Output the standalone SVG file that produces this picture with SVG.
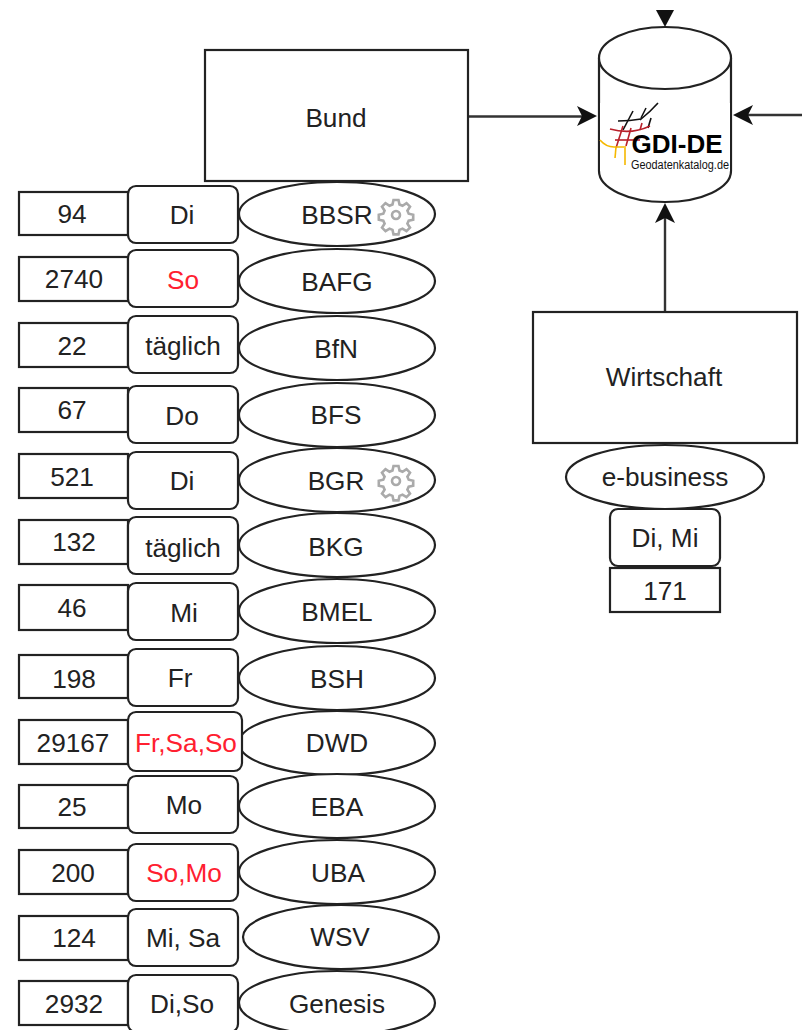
<svg xmlns="http://www.w3.org/2000/svg" width="802" height="1030" viewBox="0 0 802 1030">
<style>
text{font-family:"Liberation Sans",Arial,sans-serif;font-size:26.2px;fill:#222;text-anchor:middle;dominant-baseline:central}
.s{fill:#fff;stroke:#222;stroke-width:2.2}
.r{fill:#ff2030}
.c{fill:none;stroke:#333;stroke-width:2.4}
.h{fill:#111;stroke:none}
.g{fill:none;stroke:#aaa;stroke-width:2.6}
.l{fill:none;stroke-width:1.6}
</style>
<defs>
<g id="gear"><circle class="g" r="4"/><path class="g" d="M-2.500-15h5l1 4.500 3 1.300 4-2.600 3.500 3.500-2.600 4 1.300 3 4.500 1v5l-4.500 1-1.300 3 2.600 4-3.500 3.500-4-2.600-3 1.300-1 4.500h-5l-1-4.500-3-1.300-4 2.600-3.500-3.500 2.600-4-1.300-3-4.500-1v-5l4.500-1 1.300-3-2.600-4 3.500-3.500 4 2.600 3-1.300z"/></g>
</defs>
<g id="connectors">
<path class="c" d="M468 116.500H583"/><path class="h" d="M597 116l-20-10 5 10-5 10z"/>
<path class="c" d="M802 115H745"/><path class="h" d="M733 115l20-10-5 10 5 10z"/>
<path class="c" d="M665 311V218"/><path class="h" d="M665 203l-10 20 10-5 10 5z"/>
<path class="h" d="M665 27l-9-17h18z"/>
</g>
<g id="bund"><rect class="s" x="205" y="50" width="263" height="131"/><text x="336" y="118">Bund</text></g>
<g id="katalog">
<path class="s" d="M599 58a66 31 0 0 1 132 0v113a66 31 0 0 1-132 0z"/>
<path class="s" d="M599 58a66 31 0 0 0 132 0"/>
<rect x="600" y="103" width="130" height="68" fill="#fff"/>
<g class="l" stroke="#111"><path d="M618 121Q630 121 641 119"/><path d="M623 130L633 111"/><path d="M640 120Q650 112 658 103"/><path d="M641 118L646 108"/><path d="M648 128L651 118"/></g>
<g class="l" stroke="#b8202a"><path d="M610 129Q631 135 650 126"/><path d="M615 140H640"/><path d="M616 148L623 126"/><path d="M626 146L631 128"/><path d="M640 130L642 123"/></g>
<g class="l" stroke="#f5b800"><path d="M600 140Q606 147 614 147H626"/><path d="M615 158L616 147"/><path d="M625 165V148"/></g>
<text x="677" y="144" style="font-weight:700;font-size:25px;fill:#000" textLength="91" lengthAdjust="spacingAndGlyphs">GDI-DE</text>
<text x="680" y="165" style="font-size:12px;fill:#111" textLength="98" lengthAdjust="spacingAndGlyphs">Geodatenkatalog.de</text>
</g>
<g id="wirtschaft"><rect class="s" x="533" y="312" width="264" height="131"/><text x="664" y="377">Wirtschaft</text></g>
<g id="ebusiness"><ellipse class="s" cx="665" cy="477" rx="99" ry="32"/><text x="665" y="477">e-business</text></g>
<g id="ebusiness-tag"><rect class="s" x="610" y="509" width="110" height="57" rx="8"/><text x="665" y="538">Di, Mi</text></g>
<g id="ebusiness-count"><rect class="s" x="610" y="568" width="110" height="44"/><text x="665" y="591">171</text></g>

<g id="bbsr-count"><rect class="s" x="19" y="192" width="109" height="43"/><text x="72" y="214">94</text></g>
<g id="bbsr-tag"><rect class="s" x="128" y="186" width="110" height="57" rx="8"/><text x="182" y="215">Di</text></g>
<g id="bbsr"><ellipse class="s" cx="337" cy="214" rx="98" ry="32"/><text x="337" y="215">BBSR</text><use href="#gear" transform="translate(396 215)"/></g>

<g id="bafg-count"><rect class="s" x="19" y="257" width="109" height="44"/><text x="74" y="279">2740</text></g>
<g id="bafg-tag"><rect class="s" x="128" y="250" width="110" height="57" rx="8"/><text class="r" x="183" y="280">So</text></g>
<g id="bafg"><ellipse class="s" cx="337" cy="281" rx="98" ry="32"/><text x="337" y="282">BAFG</text></g>

<g id="bfn-count"><rect class="s" x="19" y="323" width="109" height="44"/><text x="72" y="346">22</text></g>
<g id="bfn-tag"><rect class="s" x="128" y="316" width="110" height="57" rx="8"/><text x="183" y="346">täglich</text></g>
<g id="bfn"><ellipse class="s" cx="337" cy="348" rx="98" ry="32"/><text x="336" y="349">BfN</text></g>

<g id="bfs-count"><rect class="s" x="19" y="388" width="109" height="44"/><text x="72" y="410">67</text></g>
<g id="bfs-tag"><rect class="s" x="128" y="386" width="110" height="57" rx="8"/><text x="182" y="416">Do</text></g>
<g id="bfs"><ellipse class="s" cx="337" cy="415" rx="98" ry="32"/><text x="336" y="415">BFS</text></g>

<g id="bgr-count"><rect class="s" x="19" y="454" width="109" height="44"/><text x="72" y="477">521</text></g>
<g id="bgr-tag"><rect class="s" x="128" y="452" width="110" height="57" rx="8"/><text x="182" y="481">Di</text></g>
<g id="bgr"><ellipse class="s" cx="337" cy="480" rx="98" ry="32"/><text x="336" y="481">BGR</text><use href="#gear" transform="translate(396 481)"/></g>

<g id="bkg-count"><rect class="s" x="19" y="520" width="109" height="44"/><text x="74" y="542">132</text></g>
<g id="bkg-tag"><rect class="s" x="128" y="517" width="110" height="57" rx="8"/><text x="183" y="548">täglich</text></g>
<g id="bkg"><ellipse class="s" cx="337" cy="545" rx="98" ry="32"/><text x="336" y="547">BKG</text></g>

<g id="bmel-count"><rect class="s" x="19" y="585" width="109" height="45"/><text x="72" y="608">46</text></g>
<g id="bmel-tag"><rect class="s" x="128" y="583" width="110" height="57" rx="8"/><text x="184" y="613">Mi</text></g>
<g id="bmel"><ellipse class="s" cx="337" cy="611" rx="98" ry="32"/><text x="337" y="612">BMEL</text></g>

<g id="bsh-count"><rect class="s" x="19" y="655" width="109" height="43"/><text x="74" y="679">198</text></g>
<g id="bsh-tag"><rect class="s" x="128" y="649" width="110" height="57" rx="8"/><text x="180" y="678">Fr</text></g>
<g id="bsh"><ellipse class="s" cx="337" cy="678" rx="98" ry="32"/><text x="337" y="679">BSH</text></g>

<g id="dwd-count"><rect class="s" x="19" y="720" width="109" height="44"/><text x="73" y="743">29167</text></g>
<g id="dwd"><ellipse class="s" cx="337" cy="743" rx="98" ry="32"/><text x="337" y="743">DWD</text></g>
<g id="dwd-tag"><rect class="s" x="128" y="712" width="114" height="59" rx="8"/><text class="r" x="186" y="743">Fr,Sa,So</text></g>

<g id="eba-count"><rect class="s" x="19" y="785" width="109" height="43"/><text x="72" y="807">25</text></g>
<g id="eba-tag"><rect class="s" x="128" y="776" width="110" height="57" rx="8"/><text x="184" y="805">Mo</text></g>
<g id="eba"><ellipse class="s" cx="337" cy="806" rx="98" ry="32"/><text x="337" y="807">EBA</text></g>

<g id="uba-count"><rect class="s" x="19" y="850" width="109" height="44"/><text x="73" y="873">200</text></g>
<g id="uba-tag"><rect class="s" x="128" y="844" width="110" height="57" rx="8"/><text class="r" x="184" y="873">So,Mo</text></g>
<g id="uba"><ellipse class="s" cx="337" cy="872" rx="98" ry="32"/><text x="338" y="873">UBA</text></g>

<g id="wsv-count"><rect class="s" x="19" y="916" width="109" height="44"/><text x="74" y="938">124</text></g>
<g id="wsv-tag"><rect class="s" x="128" y="909" width="110" height="57" rx="8"/><text x="183" y="938">Mi, Sa</text></g>
<g id="wsv"><ellipse class="s" cx="341" cy="937" rx="98" ry="32"/><text x="340" y="937">WSV</text></g>

<g id="genesis-count"><rect class="s" x="19" y="981" width="109" height="44"/><text x="74" y="1004">2932</text></g>
<g id="genesis-tag"><rect class="s" x="128" y="975" width="110" height="57" rx="8"/><text x="182" y="1004">Di,So</text></g>
<g id="genesis"><ellipse class="s" cx="337" cy="1003" rx="98" ry="32"/><text x="337" y="1004">Genesis</text></g>
</svg>
